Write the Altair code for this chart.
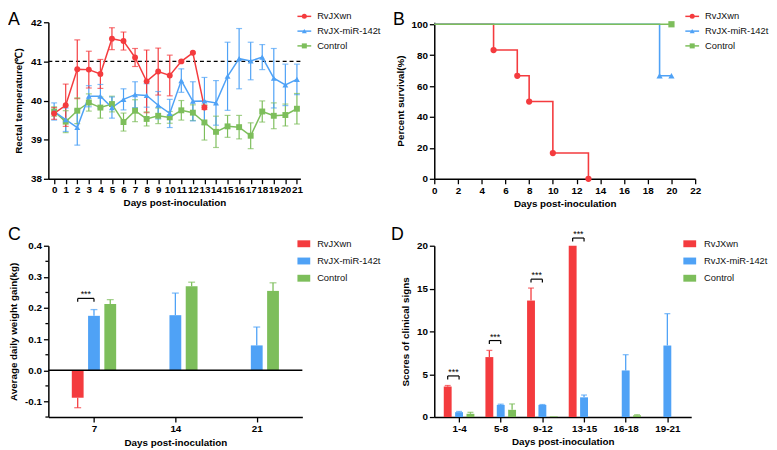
import json
import altair as alt
import pandas as pd

FONT = "Liberation Sans"

series = ["RvJXwn", "RvJX-miR-142t", "Control"]
palette = ["#F43B3E", "#4FA2F6", "#7DBE5B"]
shapes = ["circle", "triangle-up", "square"]

# ---------------- Panel A : rectal temperature ----------------
temp_days = list(range(22))
temp_days_wn = list(range(14))
temp_wn = [39.67, 39.88, 40.80, 40.79, 40.68, 41.58, 41.52, 41.10, 40.49, 40.74, 40.64, 41.00, 41.22, 39.82]
temp_wn_err = [0.15, 0.54, 0.75, 0.47, 0.37, 0.28, 0.23, 0.23, 0.80, 0.60, 0.52, 0.02, 0.02, 0.05]
temp_mir = [39.72, 39.51, 39.31, 40.11, 40.11, 39.82, 40.03, 40.15, 40.13, 39.88, 39.67, 40.51,
            39.98, 39.99, 39.94, 40.62, 41.07, 41.01, 41.11, 40.57, 40.40, 40.54]
temp_mir_err = [0.22, 0.30, 0.45, 0.27, 0.30, 0.27, 0.27, 0.33, 0.30, 0.35, 0.36, 0.30,
                0.50, 0.60, 0.57, 0.87, 0.77, 0.48, 0.32, 0.76, 0.53, 0.39]
temp_ctl = [39.72, 39.46, 39.74, 39.95, 39.82, 39.91, 39.45, 39.74, 39.53, 39.61, 39.57, 39.75,
            39.69, 39.44, 39.20, 39.34, 39.32, 39.10, 39.72, 39.61, 39.63, 39.79]
temp_ctl_err = [0.12, 0.28, 0.33, 0.22, 0.27, 0.20, 0.23, 0.28, 0.18, 0.20, 0.15, 0.25,
                0.20, 0.45, 0.40, 0.28, 0.30, 0.33, 0.27, 0.33, 0.28, 0.39]
temp_threshold = [41]

# ---------------- Panel B : survival ----------------
surv_wn_days = [0, 5, 7, 8, 10, 13]
surv_wn = [100, 83.33, 66.67, 50, 16.67, 0]
surv_mir_days = [0, 19, 20]
surv_mir = [100, 66.67, 66.67]
surv_ctl_days = [0, 20]
surv_ctl = [100, 100]

# ---------------- Panel C : weight gain ----------------
wg_days = [7, 14, 21]
wg_wn_days = [7]
wg_wn = [-0.088]
wg_wn_err = [0.032]
wg_mir = [0.175, 0.177, 0.080]
wg_mir_err = [0.020, 0.071, 0.059]
wg_ctl = [0.213, 0.270, 0.255]
wg_ctl_err = [0.014, 0.013, 0.026]
wg_sig_days = [7]
wg_sig_top = [0.231]
wg_minor_ticks = [-0.15, -0.05, 0.05, 0.15, 0.25, 0.35]

# ---------------- Panel D : clinical scores ----------------
cs_cats = ["1-4", "5-8", "9-12", "13-15", "16-18", "19-21"]
cs_wn_cats = ["1-4", "5-8", "9-12", "13-15"]
cs_wn = [3.56, 7.0, 13.6, 20.0]
cs_wn_err = [0.12, 0.78, 1.46, 0.0]
cs_mir = [0.57, 1.42, 1.42, 2.30, 5.44, 8.35]
cs_mir_err = [0.08, 0.08, 0.04, 0.27, 1.84, 3.72]
cs_ctl_cats = ["1-4", "5-8", "9-12", "16-18"]
cs_ctl = [0.38, 0.84, 0.08, 0.20]
cs_ctl_err = [0.17, 0.69, 0.0, 0.07]
cs_sig_cats = ["1-4", "5-8", "9-12", "13-15"]
cs_sig_top = [4.8, 8.93, 16.1, 20.9]

# ------------------------------------------------------------
color_enc = alt.Color("series:N", scale=alt.Scale(domain=series, range=palette), legend=None)
shape_enc = alt.Shape("series:N", scale=alt.Scale(domain=series, range=shapes), legend=None)
SER = json.dumps(series)
CATS = json.dumps(cs_cats)


def legend_layer(kind, rows_range, sx0, sx1, tx, letter, lx, ly_):
    ldf = pd.DataFrame({"series": series})
    ly = alt.Y("series:N", scale=alt.Scale(type="point", domain=series, range=rows_range, padding=0), axis=None)
    base = alt.Chart(ldf)
    layers = []
    if kind == "line":
        layers.append(base.mark_rule(strokeWidth=1.5).encode(
            x=alt.value(sx0), x2=alt.value(sx1), y=ly, color=color_enc))
        layers.append(base.mark_point(filled=True, size=26, opacity=1).encode(
            x=alt.value((sx0 + sx1) / 2), y=ly, color=color_enc, shape=shape_enc))
    else:
        layers.append(base.mark_rule(strokeWidth=7, strokeCap="butt").encode(
            x=alt.value(sx0), x2=alt.value(sx1), y=ly, color=color_enc))
    layers.append(base.mark_text(align="left", baseline="middle", font=FONT, fontSize=9.5, color="#111").encode(
        x=alt.value(tx), y=ly, text="series:N"))
    layers.append(alt.Chart(pd.DataFrame({"t": [letter]})).mark_text(
        align="left", baseline="top", font=FONT, fontSize=18, color="black").encode(
        x=alt.value(lx), y=alt.value(ly_), text="t:N"))
    return alt.layer(*layers)


# ---------------- Panel A ----------------
dfA = pd.concat([
    pd.DataFrame({"series": "Control", "day": temp_days, "mean": temp_ctl, "err": temp_ctl_err}),
    pd.DataFrame({"series": "RvJX-miR-142t", "day": temp_days, "mean": temp_mir, "err": temp_mir_err}),
    pd.DataFrame({"series": "RvJXwn", "day": temp_days_wn, "mean": temp_wn, "err": temp_wn_err}),
])
scA_x = alt.Scale(domain=[-0.5, 21.3], nice=False, zero=False)
axA_x = alt.Axis(values=temp_days, title="Days post-inoculation", labelOverlap=False, labelFlush=False,
                 labelPadding=1, titlePadding=3)
scA_y = alt.Scale(domain=[38, 42], nice=False, zero=False)
axA_y = alt.Axis(values=[38, 39, 40, 41, 42], title="Rectal temperature(℃)", titlePadding=7)


def xA(f):
    return alt.X(f"{f}:Q", scale=scA_x, axis=axA_x)


def yA(f):
    return alt.Y(f"{f}:Q", scale=scA_y, axis=axA_y)


baseA = alt.Chart(dfA).transform_calculate(lo="datum.mean - datum.err", hi="datum.mean + datum.err")
mainA = alt.layer(
    alt.Chart(pd.DataFrame({"thr": temp_threshold})).mark_rule(
        color="black", strokeDash=[4, 3], strokeWidth=1.3).encode(y=yA("thr")),
    baseA.mark_rule(strokeWidth=1.2).encode(x=xA("day"), y=yA("lo"), y2="hi:Q", color=color_enc),
    baseA.mark_tick(orient="horizontal", size=6, thickness=1.2).encode(x=xA("day"), y=yA("lo"), color=color_enc),
    baseA.mark_tick(orient="horizontal", size=6, thickness=1.2).encode(x=xA("day"), y=yA("hi"), color=color_enc),
    baseA.mark_line(strokeWidth=1.5).encode(x=xA("day"), y=yA("mean"), color=color_enc),
    baseA.mark_point(filled=True, size=36, opacity=1).encode(x=xA("day"), y=yA("mean"), color=color_enc, shape=shape_enc),
)
panelA = alt.layer(mainA, legend_layer("line", [-6, 24], 253, 267, 273, "A", -41, -11)).resolve_scale(
    y="independent").properties(width=256, height=159)

# ---------------- Panel B ----------------
dfB = pd.concat([
    pd.DataFrame({"series": "RvJXwn", "day": surv_wn_days, "pct": surv_wn}),
    pd.DataFrame({"series": "RvJX-miR-142t", "day": surv_mir_days, "pct": surv_mir}),
    pd.DataFrame({"series": "Control", "day": surv_ctl_days, "pct": surv_ctl}),
])
xB = alt.X("day:Q", scale=alt.Scale(domain=[0, 22], nice=False, zero=False),
           axis=alt.Axis(values=list(range(0, 23, 2)), title="Days post-inoculation", labelFlush=False,
                         labelOverlap=False, labelPadding=2, titlePadding=3))
yB = alt.Y("pct:Q", scale=alt.Scale(domain=[0, 101.3], nice=False, zero=False),
           axis=alt.Axis(values=[0, 20, 40, 60, 80, 100], title="Percent survival(%)", titlePadding=6))
baseB = alt.Chart(dfB)
mainB = alt.layer(
    *[baseB.transform_filter(alt.datum.series == s).mark_line(interpolate="step-after", strokeWidth=1.6).encode(
        x=xB, y=yB, color=color_enc) for s in series],
    baseB.transform_filter("datum.day > 0").mark_point(filled=True, size=40, opacity=1).encode(
        x=xB, y=yB, color=color_enc, shape=shape_enc),
)
panelB = alt.layer(mainB, legend_layer("line", [-6, 24], 255, 269, 275, "B", -42, -11)).resolve_scale(
    y="independent").properties(width=265, height=159)

# ---------------- Panel C ----------------
dfC = pd.concat([
    pd.DataFrame({"series": "RvJXwn", "day": wg_wn_days, "val": wg_wn, "err": wg_wn_err}),
    pd.DataFrame({"series": "RvJX-miR-142t", "day": wg_days, "val": wg_mir, "err": wg_mir_err}),
    pd.DataFrame({"series": "Control", "day": wg_days, "val": wg_ctl, "err": wg_ctl_err}),
])
scC_x = alt.Scale(domain=[3.5, 24.5], nice=False, zero=False)
axC_x = alt.Axis(values=wg_days, title="Days post-inoculation", labelFlush=False, labelPadding=2, titlePadding=4)
scC_y = alt.Scale(domain=[-0.15, 0.4], nice=False, zero=False)
axC_y = alt.Axis(values=[-0.1, 0, 0.1, 0.2, 0.3, 0.4], title="Average daily weight gain(kg)",
                 labelExpr="(datum.value < 0 ? '-' : '') + format(abs(datum.value), '.1f')", titlePadding=6)


def xC(f):
    return alt.X(f"{f}:Q", scale=scC_x, axis=axC_x)


def yC(f):
    return alt.Y(f"{f}:Q", scale=scC_y, axis=axC_y)


baseC = alt.Chart(dfC).transform_calculate(
    xpos=f"datum.day + (indexof({SER}, datum.series) - 1) * 1.4",
    tip="datum.val + (datum.val < 0 ? -datum.err : datum.err)",
)
sigC = alt.Chart(pd.DataFrame({"day": wg_sig_days, "top": wg_sig_top})).transform_calculate(
    xl="datum.day - 1.4", xr="datum.day", xm="datum.day - 0.7")
mainC = alt.layer(
    baseC.mark_rule(strokeWidth=1.3).encode(x=xC("xpos"), y=yC("val"), y2="tip:Q", color=color_enc),
    baseC.mark_tick(orient="horizontal", size=7, thickness=1.3).encode(x=xC("xpos"), y=yC("tip"), color=color_enc),
    baseC.mark_bar(size=12, orient="vertical").encode(x=xC("xpos"), y=yC("val"), color=color_enc),
    alt.Chart(pd.DataFrame({"zero": [0]})).mark_rule(color="black", strokeWidth=1.5).encode(y=yC("zero")),
    alt.Chart(pd.DataFrame({"m": wg_minor_ticks})).mark_rule(color="black", strokeWidth=1.3).encode(
        y=yC("m"), x=alt.value(-3), x2=alt.value(0)),
    sigC.mark_rule(color="black", strokeWidth=1.2).encode(x=xC("xl"), x2="xr:Q", y=yC("top")),
    sigC.mark_rule(color="black", strokeWidth=1.2, y2Offset=3.5).encode(x=xC("xl"), y=yC("top"), y2="top:Q"),
    sigC.mark_rule(color="black", strokeWidth=1.2, y2Offset=3.5).encode(x=xC("xr"), y=yC("top"), y2="top:Q"),
    sigC.mark_text(text="***", font=FONT, fontSize=9, baseline="alphabetic", dy=-1, color="black").encode(
        x=xC("xm"), y=yC("top")),
)
panelC = alt.layer(mainC, legend_layer("box", [-2, 33], 253, 266, 273, "C", -41, -20)).resolve_scale(
    y="independent").properties(width=258, height=174)

# ---------------- Panel D ----------------
dfD = pd.concat([
    pd.DataFrame({"series": "RvJXwn", "cat": cs_wn_cats, "val": cs_wn, "err": cs_wn_err}),
    pd.DataFrame({"series": "RvJX-miR-142t", "cat": cs_cats, "val": cs_mir, "err": cs_mir_err}),
    pd.DataFrame({"series": "Control", "cat": cs_ctl_cats, "val": cs_ctl, "err": cs_ctl_err}),
])
scD_x = alt.Scale(domain=[-0.477, 5.455], nice=False, zero=False)
axD_x = alt.Axis(values=list(range(len(cs_cats))), labelExpr=f"{CATS}[datum.value]", title="Days post-inoculation",
                 labelFlush=False, labelOverlap=False, labelPadding=2, titlePadding=3)
scD_y = alt.Scale(domain=[0, 20], nice=False, zero=False)
axD_y = alt.Axis(values=[0, 5, 10, 15, 20], title="Scores of clinical signs", titlePadding=6)


def xD(f):
    return alt.X(f"{f}:Q", scale=scD_x, axis=axD_x)


def yD(f):
    return alt.Y(f"{f}:Q", scale=scD_y, axis=axD_y)


baseD = alt.Chart(dfD).transform_calculate(
    xpos=f"indexof({CATS}, datum.cat) + (indexof({SER}, datum.series) - 1) * 0.273",
    tip="datum.val + datum.err",
)
sigD = alt.Chart(pd.DataFrame({"cat": cs_sig_cats, "top": cs_sig_top})).transform_calculate(
    xl=f"indexof({CATS}, datum.cat) - 0.273", xr=f"indexof({CATS}, datum.cat)",
    xm=f"indexof({CATS}, datum.cat) - 0.136")
errD = baseD.transform_filter("datum.err > 0")
mainD = alt.layer(
    errD.mark_rule(strokeWidth=1.3).encode(x=xD("xpos"), y=yD("val"), y2="tip:Q", color=color_enc),
    errD.mark_tick(orient="horizontal", size=6, thickness=1.3).encode(x=xD("xpos"), y=yD("tip"), color=color_enc),
    baseD.mark_bar(size=8, orient="vertical").encode(x=xD("xpos"), y=yD("val"), color=color_enc),
    sigD.mark_rule(color="black", strokeWidth=1.2).encode(x=xD("xl"), x2="xr:Q", y=yD("top")),
    sigD.mark_rule(color="black", strokeWidth=1.2, y2Offset=3.5).encode(x=xD("xl"), y=yD("top"), y2="top:Q"),
    sigD.mark_rule(color="black", strokeWidth=1.2, y2Offset=3.5).encode(x=xD("xr"), y=yD("top"), y2="top:Q"),
    sigD.mark_text(text="***", font=FONT, fontSize=9, baseline="alphabetic", dy=-1, color="black").encode(
        x=xD("xm"), y=yD("top")),
)
panelD = alt.layer(mainD, legend_layer("box", [-2, 33], 253, 266, 274, "D", -44, -20)).resolve_scale(
    y="independent").properties(width=261, height=174)

chart = alt.concat(
    panelA, panelB, panelC, panelD, columns=2,
    spacing={"row": 68, "column": 134}, bounds="flush",
).properties(padding=0).configure_view(stroke=None).configure_axis(
    domainColor="black", domainWidth=1.5, tickColor="black", tickWidth=1.3, tickSize=5,
    labelFont=FONT, labelFontSize=10, labelFontWeight="bold", labelColor="black",
    titleFont=FONT, titleFontSize=10, titleFontWeight="bold", titleColor="black", grid=False,
)

chart.save("out.html", embed_options={"renderer": "svg", "actions": False})
